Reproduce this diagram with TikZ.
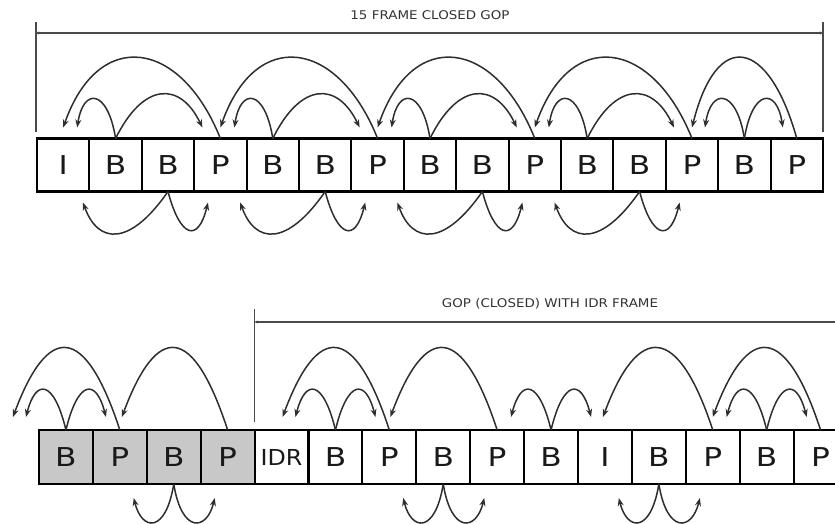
\documentclass[tikz,border=0pt]{standalone}
\usepackage{graphicx}
\usepackage{fontspec}
\setmainfont{DejaVu Sans}
\usetikzlibrary{calc,arrows.meta}
\definecolor{arcc}{HTML}{2E2E2E}
\definecolor{dimc}{HTML}{4A4A4A}
\definecolor{oldfill}{HTML}{C8C8C8}
\newcommand\bl[1]{\scalebox{1.2}[1]{\fontsize{26}{26}\selectfont #1}}
\newcommand\blidr[1]{\scalebox{1.08}[1]{\fontsize{22}{22}\selectfont #1}}
\newcommand\lbl[1]{\scalebox{1.12}[1]{\fontsize{12}{12}\selectfont #1}}
\begin{document}
\begin{tikzpicture}[x=1pt,y=-1pt,
  frm/.style={draw=black,line width=2.1pt,minimum width=52.4pt,minimum height=53pt,inner sep=0pt,outer sep=0pt,text=black!90},
  frmb/.style={frm,minimum width=53.9pt,minimum height=54pt},
  old/.style={fill=oldfill},
  arc/.style={draw=arcc,line width=1.5pt,-{Stealth[length=8pt,width=6pt]}},
  dim/.style={draw=dimc,line width=1.5pt},
  dimarrow/.style={dim,{Stealth[length=3pt,width=3pt]}-{Stealth[length=3pt,width=3pt]}},
  lab/.style={text=black!80,inner sep=0pt}]
\useasboundingbox (0,0) rectangle (835,524);
\clip (0,0) rectangle (835,524);

% ---------- top row ----------
\foreach \l [count=\i from 0] in {I,B,B,P,B,B,P,B,B,P,B,B,P,B,P}
  \node[frm] (t\i) at ({37+52.4*(\i+0.5)},165) {\bl{\l}};

\coordinate (tl1) at (36,22);  \coordinate (tl2) at (36,132);
\coordinate (tr1) at (823,22); \coordinate (tr2) at (823,132);
\coordinate (th1) at (36,33);  \coordinate (th2) at (823,33);
\draw[dim] (tl1) -- (tl2);
\draw[dim] (tr1) -- (tr2);
\draw[dimarrow] (th1) -- (th2);
\node[lab] (ttitle) at (430,15) {\lbl{15 FRAME CLOSED GOP}};

\foreach \a/\b/\p in {0/1/3,3/4/6,6/7/9,9/10/12}{
  \draw[arc] (t\p.north) .. controls +(-40,-100) and +(35,-100) .. ($(t\a.north)+(0,-11)$);
  \draw[arc] (t\b.north) .. controls +(-8,-50) and +(6,-40) .. ($(t\a.north)+(14,-11)$);
  \draw[arc] (t\b.north) .. controls +(28,-57) and +(-22,-46) .. ($(t\p.north)+(-18,-11)$);
}
\draw[arc] (t13.north) .. controls +(-8,-50) and +(6,-40) .. ($(t12.north)+(13,-11)$);
\draw[arc] (t13.north) .. controls +(8,-50) and +(-6,-40) .. ($(t14.north)+(-14,-11)$);
\draw[arc] (t14.north) .. controls +(-28,-100) and +(25,-100) .. ($(t12.north)+(0,-11)$);

\foreach \c in {2,5,8,11}{
  \draw[arc] (t\c.south) .. controls +(-38,55) and +(15,42) .. ($(t\c.south)+(-85,11)$);
  \draw[arc] (t\c.south) .. controls +(12,46) and +(-10,41) .. ($(t\c.south)+(40,11)$);
}

% ---------- bottom row ----------
\foreach \l [count=\i from 0] in {B,P,B,P}
  \node[frmb,old] (b\i) at ({39+53.9*(\i+0.5)},457) {\bl{\l}};
\node[frmb] (b4) at ({39+53.9*4.5},457) {\blidr{IDR}};
\foreach \l [count=\i from 5] in {B,P,B,P,B,I,B,P,B,P}
  \node[frmb] (b\i) at ({39+53.9*(\i+0.5)},457) {\bl{\l}};

\coordinate (bl1) at (254.6,309); \coordinate (bl2) at (254.6,422);
\coordinate (bh1) at (254.6,322); \coordinate (bh2) at (845,322);
\draw[dim] (bl1) -- (bl2);
\draw[dimarrow] (bh1) -- (bh2);
\node[lab] (btitle) at (550,304) {\lbl{GOP (CLOSED) WITH IDR FRAME}};

\foreach \c in {0,5,9,13}{
  \draw[arc] (b\c.north) .. controls +(-12,-50) and +(10,-39) .. ($(b\c.north)+(-40,-13)$);
  \draw[arc] (b\c.north) .. controls +(12,-50) and +(-10,-39) .. ($(b\c.north)+(40,-13)$);
}
\foreach \s/\e/\o in {1/0/-53,3/1/2,6/4/1,8/6/1,12/10/-2,14/12/0}
  \draw[arc] (b\s.north) .. controls +(-35,-107) and +(35,-94) .. ($(b\e.north)+(\o,-13)$);

\foreach \c in {2,7,11}{
  \draw[arc] (b\c.south) .. controls +(-8,50) and +(8,33) .. ($(b\c.south)+(-40,14)$);
  \draw[arc] (b\c.south) .. controls +(8,50) and +(-8,33) .. ($(b\c.south)+(41,14)$);
}
\end{tikzpicture}
\end{document}
